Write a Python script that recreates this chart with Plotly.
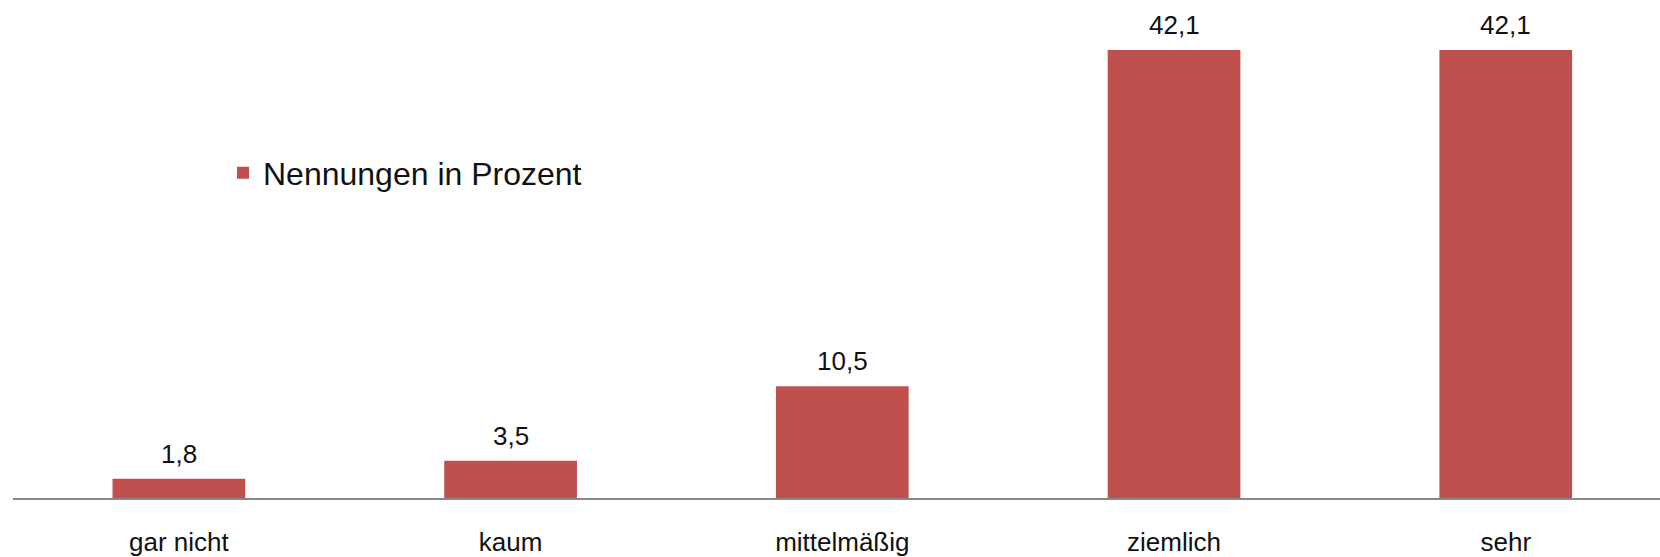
import plotly.graph_objects as go

# Survey answers and their shares in percent
categories = ["gar nicht", "kaum", "mittelmäßig", "ziemlich", "sehr"]
values = [1.8, 3.5, 10.5, 42.1, 42.1]
series_name = "Nennungen in Prozent"

bar_color = "#C0504D"
font_family = "Liberation Sans, Arial, sans-serif"
text_color = "#111111"

plot_left, plot_width = 13, 1647
plot_height = 498


def de_label(v):
    return f"{v:.1f}".replace(".", ",")


fig = go.Figure()
fig.add_trace(
    go.Bar(
        x=categories,
        y=values,
        name=series_name,
        marker=dict(color=bar_color, line=dict(width=0)),
        showlegend=True,
    )
)

# Value labels above each bar, in German decimal notation
for cat, val in zip(categories, values):
    fig.add_annotation(
        x=cat,
        y=val,
        text=de_label(val),
        showarrow=False,
        yanchor="bottom",
        yshift=8,
        font=dict(family=font_family, size=26, color=text_color),
    )

fig.update_layout(
    width=1660,
    height=557,
    margin=dict(l=plot_left, r=0, t=0, b=557 - plot_height, autoexpand=False),
    paper_bgcolor="white",
    plot_bgcolor="white",
    bargap=0.6,
    font=dict(family=font_family, size=26, color=text_color),
    legend=dict(
        x=(223 - plot_left) / plot_width,
        y=1 - 173 / plot_height,
        xanchor="left",
        yanchor="middle",
        font=dict(family=font_family, size=32, color=text_color),
        bgcolor="rgba(0,0,0,0)",
    ),
    xaxis=dict(
        type="category",
        range=[-0.5, 4.465],
        automargin=False,
        showgrid=False,
        zeroline=False,
        showline=True,
        linecolor="#888888",
        linewidth=2,
        ticks="",
        ticklabelstandoff=20,
        tickfont=dict(family=font_family, size=26, color=text_color),
    ),
    yaxis=dict(
        range=[0, 46.8],
        automargin=False,
        showgrid=False,
        zeroline=False,
        showline=False,
        showticklabels=False,
        ticks="",
    ),
)

fig.write_html("out.html")
